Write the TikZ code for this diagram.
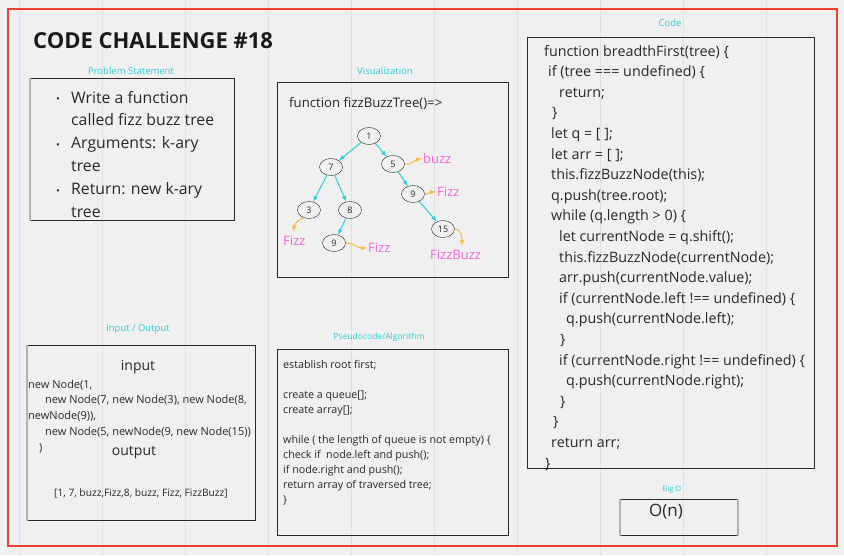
\documentclass[tikz,border=0pt]{standalone}
\usepackage{fontspec}
\setmainfont{Open Sans}
\usetikzlibrary{positioning}
\usetikzlibrary{shapes.geometric}
\definecolor{boardbg}{RGB}{240,240,240}
\definecolor{gridline}{RGB}{225,225,225}
\definecolor{framered}{RGB}{236,64,48}
\definecolor{capcyan}{RGB}{48,204,214}
\definecolor{fizzpink}{RGB}{244,100,220}
\definecolor{fizzorange}{RGB}{248,190,56}
\definecolor{inkgrey}{RGB}{40,40,40}
\newcommand{\sz}[2]{\fontsize{#1}{#2}\selectfont}
\tikzset{
	panel/.style={draw=inkgrey, line width=0.9pt},
	shade/.style={draw=black!30, line width=2pt},
	caption/.style={text=capcyan, inner sep=0pt},
	% multi-line texts are placed at the baseline of their last line
	txt/.style={text=inkgrey, inner sep=0pt, align=left, anchor=base west},
	tnode/.style={draw=inkgrey, ellipse, inner sep=0pt, minimum width=23pt, minimum height=17pt, text=inkgrey, font=\sz{9}{9}},
	fizz/.style={text=fizzpink, inner sep=0pt, anchor=base west, font=\sz{13}{13}},
	% tree edges and fizz markers
	tedge/.style={capcyan, line width=1pt, ->, >=latex},
	fedge/.style={fizzorange, line width=1pt, ->, >=latex},
}

\begin{document}
\begin{tikzpicture}[x=1pt, y=-1pt]
	\useasboundingbox (0,0) rectangle (844,555);
	\fill[boardbg] (0,0) rectangle (844,555);
	\draw[gridline, line width=0.8pt, shift={(19,37)}] (-19,-37) grid[step=83] (825,518);
	\draw[framered, line width=2pt] (8,9) rectangle (837,546);
	
	\node (title) [txt, font=\sz{22}{22}\bfseries, text=black!90] at (33,48) {CODE CHALLENGE \#18};
	
	% problem statement
	\node (probcap) [caption, font=\sz{9.5}{9.5}] at (131,71) {Problem Statement};
	\node (probbox) [panel, anchor=north west, minimum width=204pt, minimum height=142pt] at (30,78) {};
	\draw[shade] (probbox.north west) -- (probbox.south west);
	\node (probtext) [txt, font=\sz{15.8}{22.8}] at (71,217) {Write a function\\called fizz buzz tree\\Arguments: k-ary\\tree\\Return: new k-ary\\tree};
	\node (b1) [txt, font=\sz{10}{10}] at (56,102) {•};
	\node (b2) [txt, font=\sz{10}{10}] at (56,148) {•};
	\node (b3) [txt, font=\sz{10}{10}] at (56,194) {•};
	
	% visualization
	\node (viscap) [caption, font=\sz{9.5}{9.5}] at (385,71) {Visualization};
	\node (visbox) [panel, anchor=north west, minimum width=231pt, minimum height=195pt] at (277,82) {};
	\node (vistitle) [txt, font=\sz{13.2}{13.2}] at (289,107) {function fizzBuzzTree()=>};
	
	\node (n1) [tnode] at (369,136) {1};
	\node (n7) [tnode] at (331,167) {7};
	\node (n5) [tnode] at (393,164) {5};
	\node (n3) [tnode] at (309,210) {3};
	\node (n8) [tnode] at (350,210) {8};
	\node (n9r) [tnode] at (413,194) {9};
	\node (n9b) [tnode] at (334,243) {9};
	\node (n15) [tnode] at (443,229) {15};
	
	\node (buzz) [fizz] at (423,163.5) {buzz};
	\node (fizza) [fizz] at (437,196.5) {Fizz};
	\node (fizzb) [fizz] at (283,245.5) {Fizz};
	\node (fizzc) [fizz] at (368,252.5) {Fizz};
	\node (fizzd) [fizz] at (430,259.5) {FizzBuzz};
	
	\draw[tedge] (n1) -- (n7);
	\draw[tedge] (n1) -- (n5);
	\draw[tedge] (n7) -- (n3);
	\draw[tedge] (n7) -- (n8);
	\draw[tedge] (n8) -- (n9b);
	\draw[tedge] (n5) -- (n9r);
	\draw[tedge] (n9r) -- (n15);
	
	\draw[fedge] (n5.east) to[out=-10, in=190] ([xshift=-1pt]buzz.west);
	\draw[fedge] (n9r.east) to[out=0, in=185] ([xshift=-1pt]fizza.west);
	\draw[fedge] (n3.235) to[out=200, in=90] ([xshift=11pt, yshift=4pt]fizzb.north west);
	\draw[fedge] (n9b.east) to[out=0, in=185] ([xshift=-1pt]fizzc.west);
	\draw[fedge] (n15.east) to[out=0, in=90] ([xshift=32pt, yshift=4pt]fizzd.north west);
	
	% input / output
	\node (iocap) [caption, font=\sz{9.5}{9.5}] at (138,329) {input / Output};
	\node (iobox) [panel, anchor=north west, minimum width=228pt, minimum height=175pt] at (27,345) {};
	\draw[shade] (iobox.north west) -- (iobox.south west);
	\node (inlabel) [text=inkgrey, font=\sz{14}{14}] at (138,367) {input};
	\node (intext) [txt, font=\sz{11}{15.8}] at (28,451.2) {new Node(1,\\\hspace*{17pt}new Node(7, new Node(3), new Node(8,\\newNode(9)),\\\hspace*{17pt}new Node(5, newNode(9, new Node(15))\\\hspace*{11pt})};
	\node (outlabel) [text=inkgrey, font=\sz{14}{14}] at (134,453) {output};
	\node (outtext) [text=inkgrey, font=\sz{10.2}{10.2}] at (141,493) {[1, 7, buzz,Fizz,8, buzz, Fizz, FizzBuzz]};
	
	% pseudocode
	\node (pseudocap) [caption, font=\sz{8.5}{8.5}] at (379,337) {Pseudocode/Algorithm};
	\node (pseudobox) [panel, anchor=north west, minimum width=231pt, minimum height=186pt] at (277,349) {};
	\node (pseudotext) [txt, font=\sz{10.7}{15.1}] at (283,503.9) {establish root first;\\[15.1pt]create a queue[];\\create array[];\\[15.1pt]while ( the length of queue is not empty) \{\\check if\ \ node.left and push();\\if node.right and push();\\return array of traversed tree;\\\}};
	
	% code
	\node (codecap) [caption, font=\sz{9.5}{9.5}] at (670,23) {Code};
	\node (codebox) [panel, anchor=north west, minimum width=287pt, minimum height=431pt] at (527,37) {};
	\node (codetext) [txt, font=\sz{14.3}{20.6}] at (544,468) {function breadthFirst(tree) \{\\
		\hspace*{4pt}if (tree === undefined) \{\\
		\hspace*{15pt}return;\\
		\hspace*{8pt}\}\\
		\hspace*{7pt}let q = [ ];\\
		\hspace*{7pt}let arr = [ ];\\
		\hspace*{7pt}this.fizzBuzzNode(this);\\
		\hspace*{7pt}q.push(tree.root);\\
		\hspace*{7pt}while (q.length > 0) \{\\
		\hspace*{15pt}let currentNode = q.shift();\\
		\hspace*{15pt}this.fizzBuzzNode(currentNode);\\
		\hspace*{15pt}arr.push(currentNode.value);\\
		\hspace*{15pt}if (currentNode.left !== undefined) \{\\
		\hspace*{22pt}q.push(currentNode.left);\\
		\hspace*{16pt}\}\\
		\hspace*{15pt}if (currentNode.right !== undefined) \{\\
		\hspace*{22pt}q.push(currentNode.right);\\
		\hspace*{16pt}\}\\
		\hspace*{9pt}\}\\
		\hspace*{7pt}return arr;\\
		\hspace*{1pt}\}};
	
	% big o
	\node (bigocap) [caption, font=\sz{7.5}{7.5}] at (672,490) {Big O};
	\node (bigobox) [panel, anchor=north west, minimum width=117pt, minimum height=36pt] at (620,499) {};
	\draw[shade] (bigobox.north west) -- (bigobox.south west);
	\draw[shade] (bigobox.north east) -- (bigobox.south east);
	\node (bigo) [text=inkgrey, font=\sz{17}{17}] at (666,512) {O(n)};
\end{tikzpicture}
\end{document}
